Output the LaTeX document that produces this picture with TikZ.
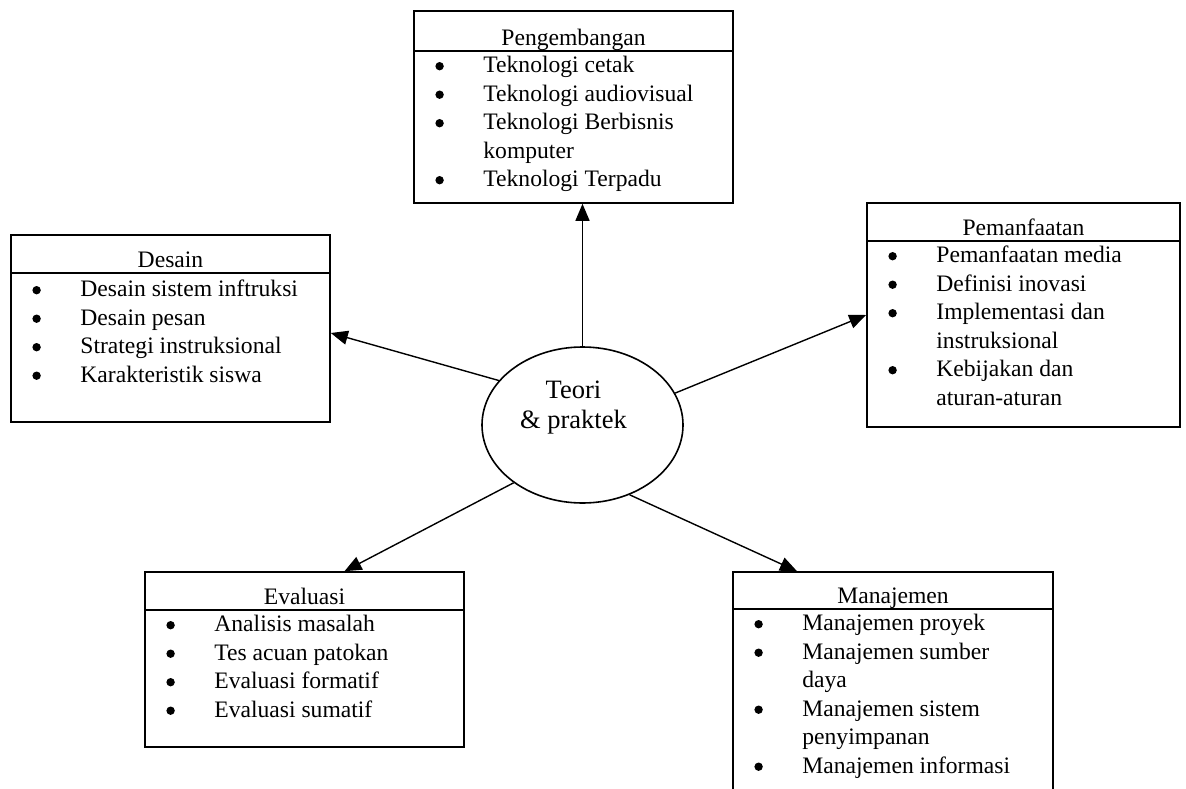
\documentclass[tikz,border=0pt]{standalone}
\usepackage{fontspec}
\setmainfont{Liberation Serif}
\usetikzlibrary{arrows.meta,shapes.geometric,calc}
\newcommand{\bl}{\makebox[48pt][l]{\tikz[baseline=0pt]{\fill (4.2pt,6.5pt) circle[radius=4.2pt];}}}
\begin{document}
\begin{tikzpicture}[x=1pt,y=-1pt,
  box/.style={draw, line width=1.6pt, inner sep=0, rectangle},
  txt/.style={font=\fontsize{23.6}{28.5}\selectfont, inner sep=0},
  ttl/.style={txt, anchor=base},
  lst/.style={txt, anchor=base west},
  arr/.style={line width=1.4pt, -{Triangle[length=17pt,width=14pt]}},
  sepline/.style={line width=1.6pt}]
\useasboundingbox (0,0) rectangle (1186,789);
\clip (0,0) rectangle (1186,789);
% Pengembangan
\node[box, minimum width=319pt, minimum height=192pt] (peng) at (573.5,107) {};
\draw[sepline] ([yshift=-41pt]peng.north west) -- ([yshift=-41pt]peng.north east);
\node[ttl] (pengt) at ([yshift=-35pt]peng.north) {Pengembangan};
\node[lst] (pengl) at ([xshift=22pt,yshift=-62.5pt]peng.north west) {\begin{tabular}[t]{@{}l@{}l@{}}
\bl&Teknologi cetak\\
\bl&Teknologi audiovisual\\
\bl&Teknologi Berbisnis\\
&komputer\\
\bl&Teknologi Terpadu
\end{tabular}};
% Desain
\node[box, minimum width=319pt, minimum height=187pt] (des) at (170.5,328.5) {};
\draw[sepline] ([yshift=-39pt]des.north west) -- ([yshift=-39pt]des.north east);
\node[ttl] (dest) at ([yshift=-33pt]des.north) {Desain};
\node[lst] (desl) at ([xshift=22pt,yshift=-62.5pt]des.north west) {\begin{tabular}[t]{@{}l@{}l@{}}
\bl&Desain sistem inftruksi\\
\bl&Desain pesan\\
\bl&Strategi instruksional\\
\bl&Karakteristik siswa
\end{tabular}};
% Pemanfaatan
\node[box, minimum width=313pt, minimum height=224pt] (pem) at (1023.5,315) {};
\draw[sepline] ([yshift=-39pt]pem.north west) -- ([yshift=-39pt]pem.north east);
\node[ttl] (pemt) at ([yshift=-33pt]pem.north) {Pemanfaatan};
\node[lst] (peml) at ([xshift=22pt,yshift=-60.5pt]pem.north west) {\begin{tabular}[t]{@{}l@{}l@{}}
\bl&Pemanfaatan media\\
\bl&Definisi inovasi\\
\bl&Implementasi dan\\
&instruksional\\
\bl&Kebijakan dan\\
&aturan-aturan
\end{tabular}};
% Evaluasi
\node[box, minimum width=319pt, minimum height=175pt] (eva) at (304.5,659.5) {};
\draw[sepline] ([yshift=-39pt]eva.north west) -- ([yshift=-39pt]eva.north east);
\node[ttl] (evat) at ([yshift=-33pt]eva.north) {Evaluasi};
\node[lst] (eval) at ([xshift=22pt,yshift=-60.5pt]eva.north west) {\begin{tabular}[t]{@{}l@{}l@{}}
\bl&Analisis masalah\\
\bl&Tes acuan patokan\\
\bl&Evaluasi formatif\\
\bl&Evaluasi sumatif
\end{tabular}};
% Manajemen
\node[box, minimum width=320pt, minimum height=228pt] (man) at (893,686) {};
\draw[sepline] ([yshift=-38pt]man.north west) -- ([yshift=-38pt]man.north east);
\node[ttl] (mant) at ([yshift=-32pt]man.north) {Manajemen};
\node[lst] (manl) at ([xshift=22pt,yshift=-59.5pt]man.north west) {\begin{tabular}[t]{@{}l@{}l@{}}
\bl&Manajemen proyek\\
\bl&Manajemen sumber\\
&daya\\
\bl&Manajemen sistem\\
&penyimpanan\\
\bl&Manajemen informasi
\end{tabular}};
% centre
\node[draw, ellipse, line width=1.6pt, minimum width=201pt, minimum height=156pt, inner sep=0] (c) at (582.5,425) {};
\node[anchor=base, font=\fontsize{26.5}{30}\selectfont, inner sep=0] (ct) at (573.5,398) {\begin{tabular}[t]{@{}c@{}}Teori\\\& praktek\end{tabular}};
% arrows
\draw[arr] (c.north) -- (c.north |- peng.south);
\draw[arr] (c.152) -- ([yshift=-4.5pt]des.east);
\draw[arr] (c.19) -- (pem.west);
\draw[arr] (c.220) -- ([xshift=40pt]eva.north);
\draw[arr] (c.304) -- ([xshift=-96pt]man.north);
\end{tikzpicture}
\end{document}
